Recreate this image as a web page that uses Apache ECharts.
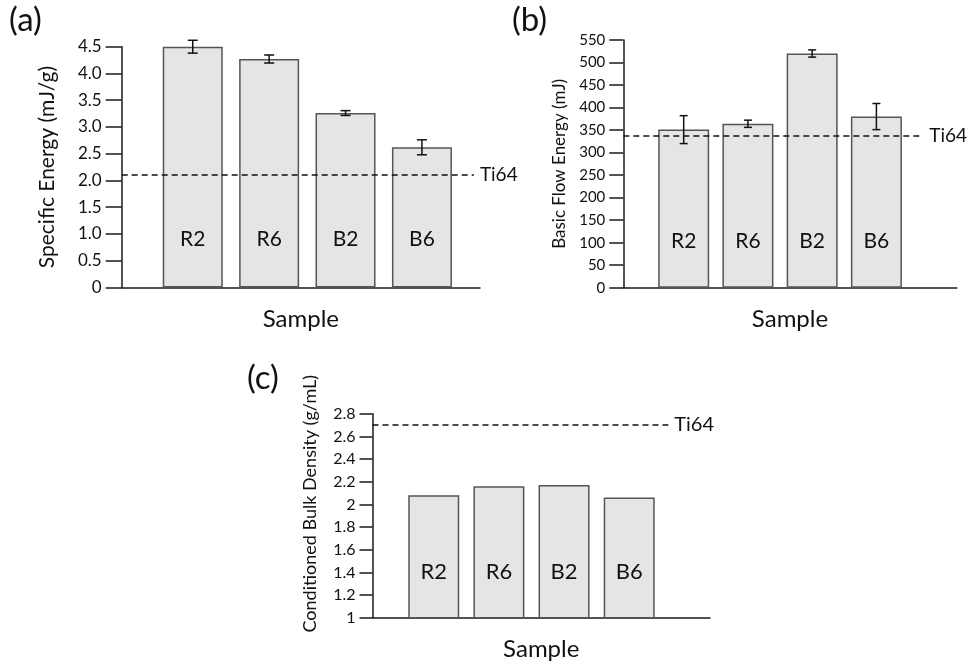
<!DOCTYPE html>
<html>
<head>
<meta charset="utf-8">
<script src="https://cdn.jsdelivr.net/npm/echarts@6/dist/echarts.min.js"></script>
<style>
  html, body { margin: 0; padding: 0; background: #fff; }
  #chart { width: 971px; height: 664px; }
</style>
</head>
<body>
<div id="chart"></div>
<script>
// samples (same order in every panel)
const categories = ['R2', 'R6', 'B2', 'B6'];

// (a) specific energy, mJ/g
const specificEnergy = [4.5, 4.27, 3.26, 2.62];
const specificEnergyErr = [0.12, 0.075, 0.045, 0.14];
const ti64Specific = 2.1;

// (b) basic flow energy, mJ
const flowEnergy = [351, 364, 520, 380];
const flowEnergyErr = [31, 8, 8, 29];
const ti64Flow = 337;

// (c) conditioned bulk density, g/mL
const bulkDensity = [2.08, 2.16, 2.17, 2.06];
const ti64Density = 2.7;

const FONT = 'Lato';
const AXIS_COLOR = '#1a1a1a';

const chart = echarts.init(document.getElementById('chart'));

function xAxisFor(gridIndex, min, max) {
  return {
    type: 'value', gridIndex, min, max,
    name: 'Sample', nameLocation: 'middle', nameGap: 20,
    nameTextStyle: { fontFamily: FONT, fontSize: 24, color: '#111', verticalAlign: 'top' },
    axisLine: { show: true, onZero: false, lineStyle: { color: AXIS_COLOR, width: 1.5 } },
    axisTick: { show: false }, axisLabel: { show: false }, splitLine: { show: false }
  };
}

// tickLen: outward tick length, the label sits 4px past it
function yAxisFor(gridIndex, tickLen, fontSize, opts) {
  return Object.assign({
    type: 'value', gridIndex,
    nameLocation: 'middle',
    axisLine: { show: true, onZero: false, lineStyle: { color: AXIS_COLOR, width: 1.5 } },
    axisTick: { show: true, length: tickLen, lineStyle: { color: AXIS_COLOR, width: 1.5 } },
    axisLabel: { fontFamily: FONT, fontSize, color: '#111', margin: tickLen + 4, formatter: opts.fmt },
    splitLine: { show: false }
  }, opts.axis);
}

function barSeries(idx, values, barWidth, fontSize, dist) {
  return {
    type: 'bar', xAxisIndex: idx, yAxisIndex: idx,
    data: values.map((v, i) => [i, v]),
    barWidth,
    itemStyle: { color: '#e5e5e5', borderColor: '#555', borderWidth: 1.5 },
    label: {
      show: true, position: 'insideBottom', distance: dist,
      formatter: p => categories[p.dataIndex],
      fontFamily: FONT, fontSize, color: '#111'
    },
    silent: true
  };
}

function errorSeries(idx, values, errs, capHalf) {
  return {
    type: 'custom', xAxisIndex: idx, yAxisIndex: idx,
    data: values.map((v, i) => [i, v - errs[i], v + errs[i]]),
    renderItem: (params, api) => {
      const lo = api.coord([api.value(0), api.value(1)]);
      const hi = api.coord([api.value(0), api.value(2)]);
      const style = { stroke: '#111', lineWidth: 1.5 };
      return {
        type: 'group',
        children: [
          { type: 'line', shape: { x1: lo[0], y1: lo[1], x2: hi[0], y2: hi[1] }, style },
          { type: 'line', shape: { x1: lo[0] - capHalf, y1: lo[1], x2: lo[0] + capHalf, y2: lo[1] }, style },
          { type: 'line', shape: { x1: hi[0] - capHalf, y1: hi[1], x2: hi[0] + capHalf, y2: hi[1] }, style }
        ]
      };
    },
    z: 5, silent: true
  };
}

function ti64Line(idx, xFrom, xTo, value, fontSize) {
  return {
    type: 'line', xAxisIndex: idx, yAxisIndex: idx, data: [],
    markLine: {
      silent: true, symbol: 'none',
      lineStyle: { color: '#111', type: [6, 4], width: 1.5 },
      label: { show: true, position: 'end', distance: 6, formatter: 'Ti64', fontFamily: FONT, fontSize, color: '#111' },
      data: [[{ coord: [xFrom, value] }, { coord: [xTo, value] }]]
    },
    z: 4
  };
}

const option = {
  animation: false,
  backgroundColor: '#fff',
  textStyle: { fontFamily: FONT },
  grid: [
    { left: 121.7, top: 46.7, width: 358.3, height: 240.8, outerBoundsMode: 'none' },
    { left: 623.3, top: 40, width: 333.4, height: 247.7, outerBoundsMode: 'none' },
    { left: 372.5, top: 413.7, width: 337.5, height: 204, outerBoundsMode: 'none' }
  ],
  xAxis: [
    xAxisFor(0, -0.93, 3.76),
    xAxisFor(1, -0.94, 4.25),
    xAxisFor(2, -0.94, 4.24)
  ],
  yAxis: [
    yAxisFor(0, 16, 17, {
      fmt: v => (v === 0 ? '0' : v.toFixed(1)),
      axis: {
        min: 0, max: 4.5, interval: 0.5,
        name: 'Specific Energy (mJ/g)', nameGap: 64,
        nameTextStyle: { fontFamily: FONT, fontSize: 21, color: '#111' }
      }
    }),
    yAxisFor(1, 14, 15, {
      axis: {
        min: 0, max: 550, interval: 50,
        name: 'Basic Flow Energy (mJ)', nameGap: 55,
        nameTextStyle: { fontFamily: FONT, fontSize: 17, color: '#111' }
      }
    }),
    yAxisFor(2, 13, 16, {
      fmt: v => String(Math.round(v * 10) / 10),
      axis: {
        min: 1, max: 2.8, interval: 0.2,
        name: 'Conditioned Bulk Density (g/mL)', nameGap: 53,
        nameTextStyle: { fontFamily: FONT, fontSize: 18, color: '#111', padding: [0, 0, 0, 24] }
      }
    })
  ],
  graphic: [
    { type: 'text', left: 9, top: 4, style: { text: '(a)', fontFamily: FONT, fontSize: 33, fill: '#111' } },
    { type: 'text', left: 512, top: 4, style: { text: '(b)', fontFamily: FONT, fontSize: 33, fill: '#111' } },
    { type: 'text', left: 247, top: 362, style: { text: '(c)', fontFamily: FONT, fontSize: 33, fill: '#111' } }
  ],
  series: [
    barSeries(0, specificEnergy, 60, 21, 38),
    errorSeries(0, specificEnergy, specificEnergyErr, 5),
    ti64Line(0, -0.93, 3.68, ti64Specific, 19),

    barSeries(1, flowEnergy, 51, 21, 36),
    errorSeries(1, flowEnergy, flowEnergyErr, 4),
    ti64Line(1, -0.94, 3.73, ti64Flow, 19),

    barSeries(2, bulkDensity, 51, 22, 36),
    ti64Line(2, -0.94, 3.6, ti64Density, 20)
  ]
};

chart.setOption(option);
</script>
</body>
</html>
